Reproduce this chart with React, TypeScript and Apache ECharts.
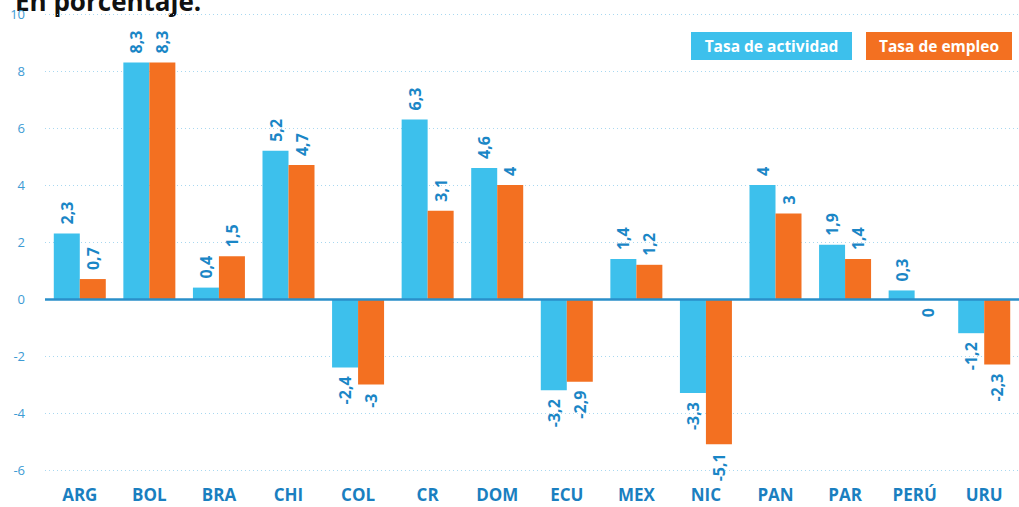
import React, { useEffect, useRef } from "react";
import * as echarts from "echarts";

const categories = ["ARG", "BOL", "BRA", "CHI", "COL", "CR", "DOM", "ECU", "MEX", "NIC", "PAN", "PAR", "PERÚ", "URU"];
const actividad = [2.3, 8.3, 0.4, 5.2, -2.4, 6.3, 4.6, -3.2, 1.4, -3.3, 4, 1.9, 0.3, -1.2];
const empleo = [0.7, 8.3, 1.5, 4.7, -3, 3.1, 4, -2.9, 1.2, -5.1, 3, 1.4, 0, -2.3];
const seriesNames = ["Tasa de actividad", "Tasa de empleo"];
const titleText = "En porcentaje.";

const BLUE = "#3dc0ec";
const ORANGE = "#f37021";
const LABEL = "#1a86c6";
const FONT = "'Open Sans', sans-serif";

function fmt(v: number) {
  return String(v).replace(".", ",");
}

function mkData(arr: number[]) {
  return arr.map((v) => ({
    value: v,
    label: {
      position: v <= 0 ? "bottom" : "top",
      align: v <= 0 ? "right" : "left",
    },
  }));
}

export default function App() {
  const ref = useRef<HTMLDivElement>(null);
  useEffect(() => {
    if (!ref.current) return;
    const chart = echarts.init(ref.current, null, { renderer: "svg" });
    const label = {
      show: true,
      rotate: 90,
      verticalAlign: "middle",
      distance: 9,
      color: LABEL,
      fontFamily: FONT,
      fontWeight: "bold",
      fontSize: 16,
      formatter: (p: any) => fmt(p.value),
    };
    chart.setOption({
      animation: false,
      textStyle: { fontFamily: FONT },
      grid: { left: 45, right: 0, top: 14, bottom: 37, containLabel: false },
      xAxis: {
        type: "category",
        data: categories,
        axisLine: { show: false },
        axisTick: { show: false },
        axisLabel: {
          color: "#1a7fc0",
          fontWeight: "bold",
          fontSize: 17,
          fontFamily: FONT,
          margin: 16,
          interval: 0,
        },
      },
      yAxis: {
        type: "value",
        min: -6,
        max: 10,
        interval: 2,
        axisLine: { show: false },
        axisTick: { show: false },
        axisLabel: { color: "#3d9bd4", fontSize: 13, fontFamily: FONT, margin: 20 },
        splitLine: { lineStyle: { color: "#a9d8f0", type: [1, 3], width: 1.2 } },
      },
      series: [
        {
          name: seriesNames[0],
          type: "bar",
          data: mkData(actividad),
          itemStyle: { color: BLUE },
          barWidth: 26,
          barGap: "0%",
          label,
          markLine: {
            silent: true,
            symbol: "none",
            label: { show: false },
            lineStyle: { color: "#2a8fca", width: 2.5, type: "solid" },
            data: [{ yAxis: 0 }],
          },
        },
        {
          name: seriesNames[1],
          type: "bar",
          data: mkData(empleo),
          itemStyle: { color: ORANGE },
          barWidth: 26,
          barGap: "0%",
          label,
        },
      ],
      graphic: [
        {
          type: "text",
          left: 15,
          top: -12,
          style: { text: titleText, font: `bold 26px ${FONT}`, fill: "#111" },
        },
        {
          type: "group",
          left: 691,
          top: 32,
          children: [
            { type: "rect", shape: { x: 0, y: 0, width: 161, height: 28 }, style: { fill: BLUE } },
            {
              type: "text",
              x: 80.5,
              y: 14,
              style: { text: seriesNames[0], font: `bold 15.5px ${FONT}`, fill: "#fff", align: "center", verticalAlign: "middle" },
            },
          ],
        },
        {
          type: "group",
          left: 866,
          top: 32,
          children: [
            { type: "rect", shape: { x: 0, y: 0, width: 146, height: 28 }, style: { fill: ORANGE } },
            {
              type: "text",
              x: 73,
              y: 14,
              style: { text: seriesNames[1], font: `bold 15.5px ${FONT}`, fill: "#fff", align: "center", verticalAlign: "middle" },
            },
          ],
        },
      ],
    });
    return () => chart.dispose();
  }, []);
  return <div ref={ref} style={{ position: "absolute", left: 0, top: 0, width: 1019, height: 507 }} />;
}
